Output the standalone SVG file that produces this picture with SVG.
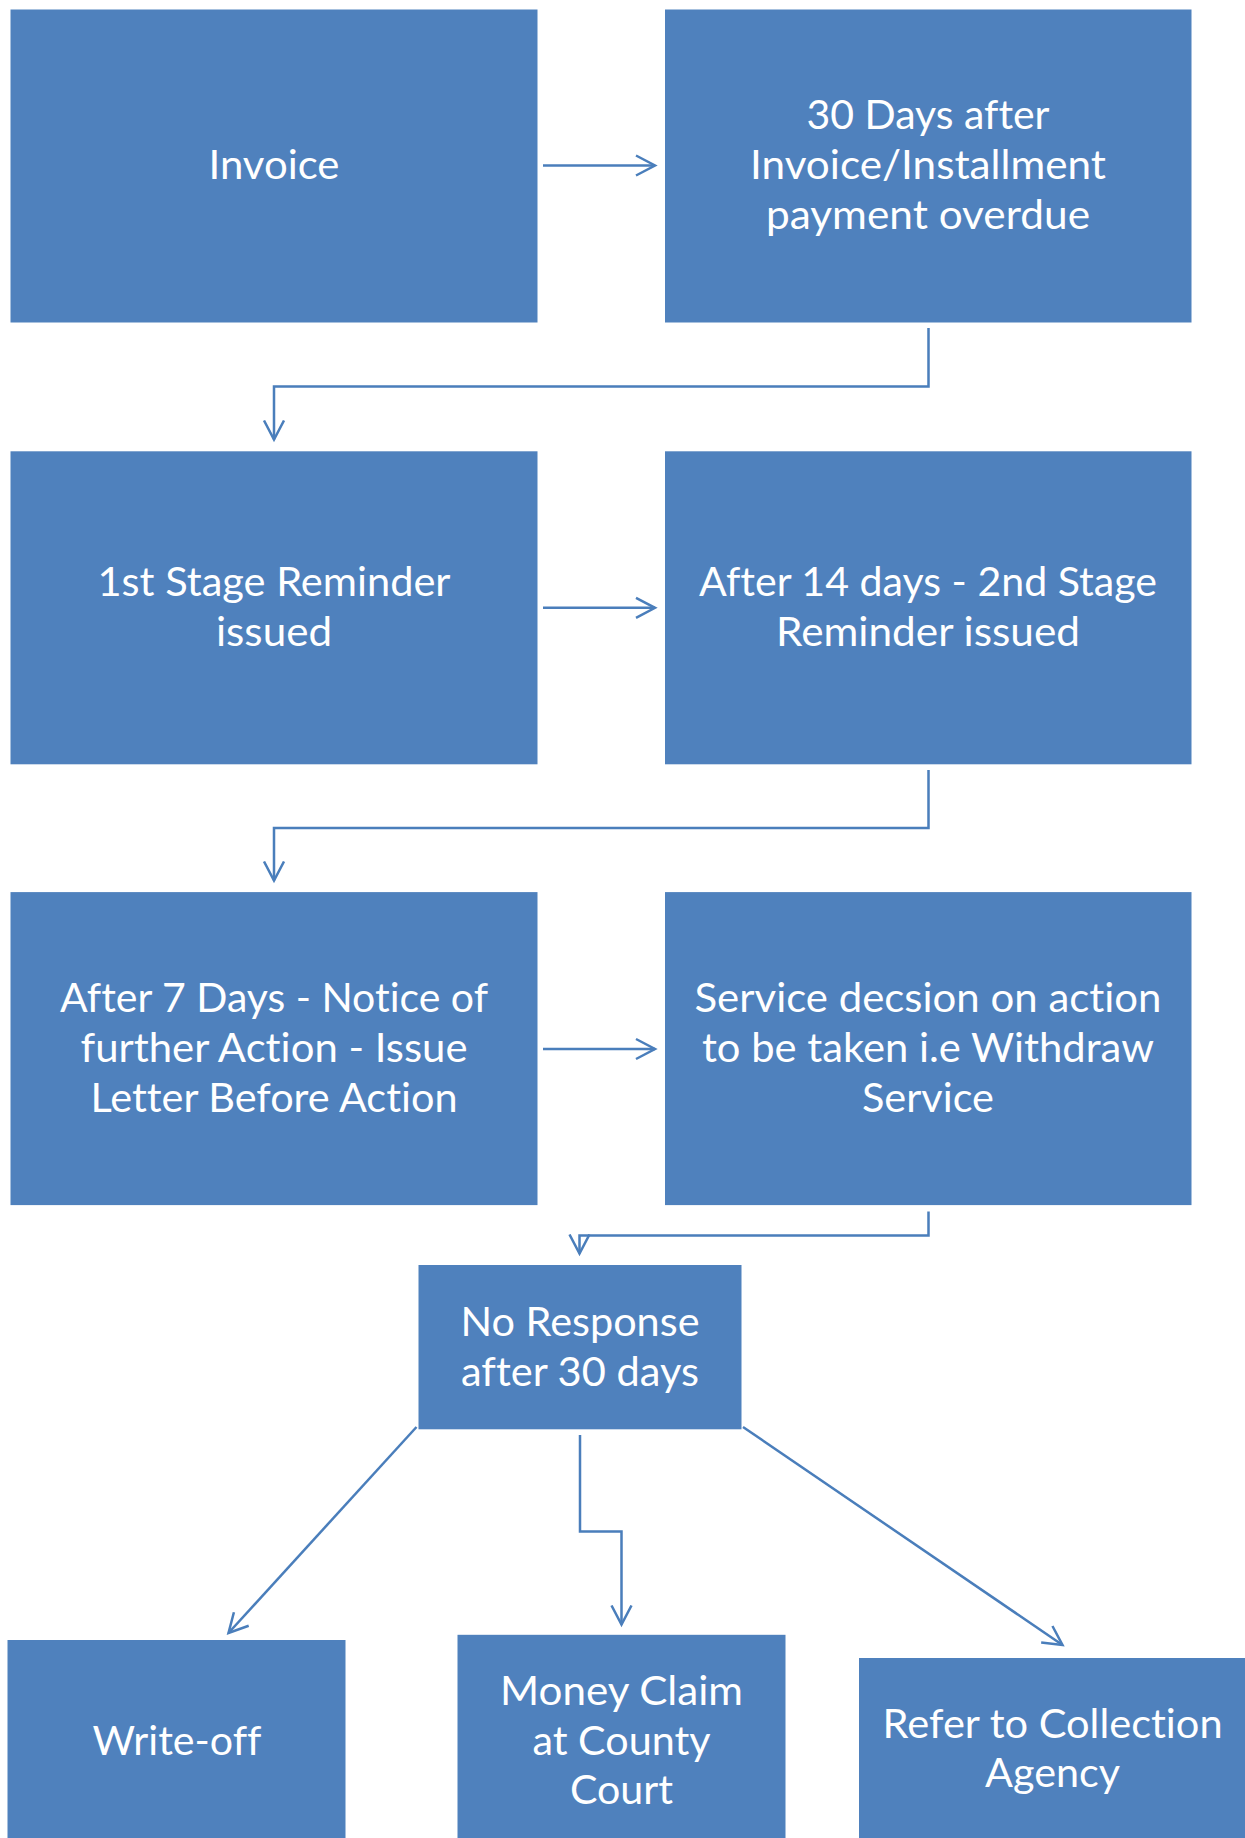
<svg xmlns="http://www.w3.org/2000/svg" width="1245" height="1838" viewBox="0 0 1245 1838">
<style>
.box{fill:#4F81BD;stroke:none}
.lbl{font-family:Lato,"Liberation Sans",sans-serif;font-size:40px;fill:#FFFFFF;text-anchor:middle;font-variant-ligatures:none;font-feature-settings:"liga" 0,"clig" 0}
.conn{fill:none;stroke:#4A7EBB;stroke-width:2.5}
</style>
<defs>
<marker id="arr" markerUnits="userSpaceOnUse" markerWidth="40" markerHeight="40" viewBox="-20 -20 40 40" refX="0" refY="0" orient="auto">
<path d="M-19,-10 L0,0 L-19,10" fill="none" stroke="#4A7EBB" stroke-width="2.5"/>
</marker>
</defs>
<rect x="0" y="0" width="1245" height="1838" fill="#FFFFFF"/>

<g id="n-invoice">
<rect class="box" x="10.5" y="9.5" width="527" height="313"/>
<text class="lbl" x="274" y="179.3" textLength="131" lengthAdjust="spacingAndGlyphs">Invoice</text>
</g>
<g id="n-30days">
<rect class="box" x="665" y="9.5" width="526.5" height="313"/>
<text class="lbl" x="928" y="129.3" textLength="243" lengthAdjust="spacingAndGlyphs">30 Days after</text>
<text class="lbl" x="928" y="179.3" textLength="356" lengthAdjust="spacingAndGlyphs">Invoice/Installment</text>
<text class="lbl" x="928" y="229.3" textLength="324" lengthAdjust="spacingAndGlyphs">payment overdue</text>
</g>
<g id="n-1st">
<rect class="box" x="10.5" y="451.3" width="527" height="313"/>
<text class="lbl" x="274" y="595.5" textLength="353" lengthAdjust="spacingAndGlyphs">1st Stage Reminder</text>
<text class="lbl" x="274" y="645.5" textLength="116" lengthAdjust="spacingAndGlyphs">issued</text>
</g>
<g id="n-2nd">
<rect class="box" x="665" y="451.3" width="526.5" height="313"/>
<text class="lbl" x="928" y="595.5" textLength="458" lengthAdjust="spacingAndGlyphs">After 14 days - 2nd Stage</text>
<text class="lbl" x="928" y="645.5" textLength="304" lengthAdjust="spacingAndGlyphs">Reminder issued</text>
</g>
<g id="n-7days">
<rect class="box" x="10.5" y="892.1" width="527" height="313"/>
<text class="lbl" x="274" y="1011.7" textLength="428" lengthAdjust="spacingAndGlyphs">After 7 Days - Notice of</text>
<text class="lbl" x="274" y="1062" textLength="387" lengthAdjust="spacingAndGlyphs">further Action - Issue</text>
<text class="lbl" x="274" y="1112.2" textLength="367" lengthAdjust="spacingAndGlyphs">Letter Before Action</text>
</g>
<g id="n-service">
<rect class="box" x="665" y="892.1" width="526.5" height="313"/>
<text class="lbl" x="928" y="1011.7" textLength="467" lengthAdjust="spacingAndGlyphs">Service decsion on action</text>
<text class="lbl" x="928" y="1062" textLength="452" lengthAdjust="spacingAndGlyphs">to be taken i.e Withdraw</text>
<text class="lbl" x="928" y="1112.2" textLength="132" lengthAdjust="spacingAndGlyphs">Service</text>
</g>
<g id="n-noresponse">
<rect class="box" x="418.5" y="1265" width="323" height="164.3"/>
<text class="lbl" x="580" y="1336.3" textLength="239" lengthAdjust="spacingAndGlyphs">No Response</text>
<text class="lbl" x="580" y="1385.5" textLength="238" lengthAdjust="spacingAndGlyphs">after 30 days</text>
</g>
<g id="n-writeoff">
<rect class="box" x="7.5" y="1640" width="338" height="250"/>
<text class="lbl" x="177" y="1755" textLength="169" lengthAdjust="spacingAndGlyphs">Write-off</text>
</g>
<g id="n-moneyclaim">
<rect class="box" x="457.5" y="1634.8" width="328" height="250"/>
<text class="lbl" x="621.5" y="1705" textLength="243" lengthAdjust="spacingAndGlyphs">Money Claim</text>
<text class="lbl" x="621.5" y="1754.5" textLength="178" lengthAdjust="spacingAndGlyphs">at County</text>
<text class="lbl" x="621.5" y="1804" textLength="103" lengthAdjust="spacingAndGlyphs">Court</text>
</g>
<g id="n-refer">
<rect class="box" x="859" y="1658" width="400" height="250"/>
<text class="lbl" x="1052.6" y="1738.3" textLength="340" lengthAdjust="spacingAndGlyphs">Refer to Collection</text>
<text class="lbl" x="1052.6" y="1787" textLength="135" lengthAdjust="spacingAndGlyphs">Agency</text>
</g>

<g id="connectors">
<path class="conn" d="M543,165.5 H655" marker-end="url(#arr)"/>
<path class="conn" d="M928.5,328 V386.5 H274 V439.5" marker-end="url(#arr)"/>
<path class="conn" d="M543,607.8 H655" marker-end="url(#arr)"/>
<path class="conn" d="M928.5,770 V828 H274 V880.5" marker-end="url(#arr)"/>
<path class="conn" d="M543,1049 H655" marker-end="url(#arr)"/>
<path class="conn" d="M928.5,1211.5 V1235.5 H579.5 V1253.5" marker-end="url(#arr)"/>
<path class="conn" d="M416.5,1427 L228.5,1633" marker-end="url(#arr)"/>
<path class="conn" d="M580,1435 V1531.5 H621.5 V1624.5" marker-end="url(#arr)"/>
<path class="conn" d="M743,1427 L1062.5,1645" marker-end="url(#arr)"/>
</g>
</svg>
